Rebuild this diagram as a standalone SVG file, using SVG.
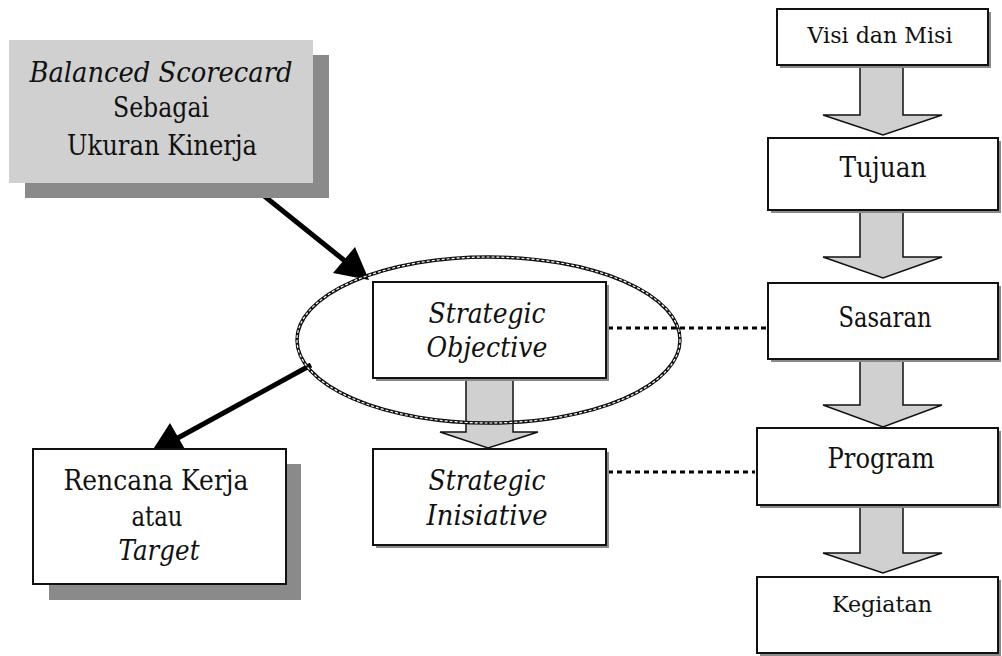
<svg xmlns="http://www.w3.org/2000/svg" width="1002" height="656" viewBox="0 0 1002 656">
<defs>
<style>
text{font-family:'DejaVu Serif','Times New Roman',serif;font-size:27px;fill:#111;text-anchor:middle}
.i{font-style:italic}
.s{font-size:22px}
.box{fill:#fff;stroke:#111;stroke-width:2}
.sh{fill:#8a8a8a}
.blk{fill:#d0d0d0;stroke:#111;stroke-width:1.5;stroke-linejoin:miter}
.dot{stroke:#000;stroke-width:3;stroke-dasharray:5 4;fill:none}
.bar{stroke:#000;stroke-width:5;fill:none}
</style>
</defs>
<rect width="1002" height="656" fill="#fff"/>

<g id="connectors">
<path class="blk" d="M860,65 H903 V115 H942 L883,135 L823,115 H860 Z"/>
<path class="blk" d="M860,210 H903 V257 H942 L883,278 L823,257 H860 Z"/>
<path class="blk" d="M860,359 H903 V405 H942 L883,427 L823,405 H860 Z"/>
<path class="blk" d="M860,505 H903 V553 H942 L883,573 L823,553 H860 Z"/>
<path class="blk" d="M466,378 H513 V432 H538 L488,448 L440,432 H466 Z"/>
<line class="dot" x1="608" y1="328" x2="766" y2="328"/>
<line class="dot" x1="608" y1="472" x2="755" y2="472"/>
<line class="bar" x1="253" y1="187" x2="345" y2="261"/>
<polygon points="369,280 333,273 355,247" fill="#000"/>
<line class="bar" x1="311" y1="365" x2="176" y2="439"/>
<polygon points="152,451 186,451 170,423" fill="#000"/>
</g>

<g id="bsc">
<rect class="sh" x="25" y="55" width="304" height="143"/>
<rect x="9" y="40" width="304" height="143" fill="#d0d0d0"/>
<text class="i" x="161" y="82" textLength="263" lengthAdjust="spacingAndGlyphs">Balanced Scorecard</text>
<text x="161" y="117" textLength="96" lengthAdjust="spacingAndGlyphs">Sebagai</text>
<text x="162" y="155" textLength="190" lengthAdjust="spacingAndGlyphs">Ukuran Kinerja</text>
</g>

<g id="rencana">
<rect class="sh" x="49" y="464" width="252" height="136"/>
<rect class="box" x="33" y="449" width="253" height="135"/>
<text x="156" y="490" textLength="185" lengthAdjust="spacingAndGlyphs">Rencana Kerja</text>
<text x="157" y="526" textLength="51" lengthAdjust="spacingAndGlyphs">atau</text>
<text class="i" x="159" y="560" textLength="81" lengthAdjust="spacingAndGlyphs">Target</text>
</g>

<g id="objective">
<rect class="sh" x="376" y="285" width="233" height="96"/>
<rect class="box" x="373" y="282" width="233" height="96"/>
<text class="i" x="487" y="323" textLength="117" lengthAdjust="spacingAndGlyphs">Strategic</text>
<text class="i" x="487" y="357" textLength="121" lengthAdjust="spacingAndGlyphs">Objective</text>
</g>

<g id="ellipse">
<ellipse cx="488.5" cy="340" rx="191.5" ry="83" fill="none" stroke="#111" stroke-width="3.5"/>
<ellipse cx="488.5" cy="340" rx="191.5" ry="83" fill="none" stroke="#fff" stroke-width="1.2" stroke-dasharray="3 2"/>
</g>

<g id="initiative">
<rect class="sh" x="376" y="452" width="233" height="96"/>
<rect class="box" x="373" y="449" width="233" height="96"/>
<text class="i" x="487" y="490" textLength="117" lengthAdjust="spacingAndGlyphs">Strategic</text>
<text class="i" x="487" y="525" textLength="121" lengthAdjust="spacingAndGlyphs">Inisiative</text>
</g>

<g id="visi">
<rect class="sh" x="780" y="12" width="211" height="56"/>
<rect class="box" x="777" y="9" width="211" height="56"/>
<text class="s" x="880" y="43" textLength="145" lengthAdjust="spacingAndGlyphs">Visi dan Misi</text>
</g>

<g id="tujuan">
<rect class="sh" x="771" y="141" width="230" height="72"/>
<rect class="box" x="768" y="138" width="230" height="72"/>
<text x="883" y="177" textLength="87" lengthAdjust="spacingAndGlyphs">Tujuan</text>
</g>

<g id="sasaran">
<rect class="sh" x="771" y="286" width="230" height="76"/>
<rect class="box" x="768" y="283" width="230" height="76"/>
<text x="885" y="327" textLength="93" lengthAdjust="spacingAndGlyphs">Sasaran</text>
</g>

<g id="program">
<rect class="sh" x="760" y="431" width="241" height="77"/>
<rect class="box" x="757" y="428" width="241" height="77"/>
<text x="881" y="468" textLength="107" lengthAdjust="spacingAndGlyphs">Program</text>
</g>

<g id="kegiatan">
<rect class="sh" x="760" y="580" width="241" height="76"/>
<rect class="box" x="757" y="577" width="241" height="76"/>
<text class="s" x="882" y="612" textLength="100" lengthAdjust="spacingAndGlyphs">Kegiatan</text>
</g>
</svg>
